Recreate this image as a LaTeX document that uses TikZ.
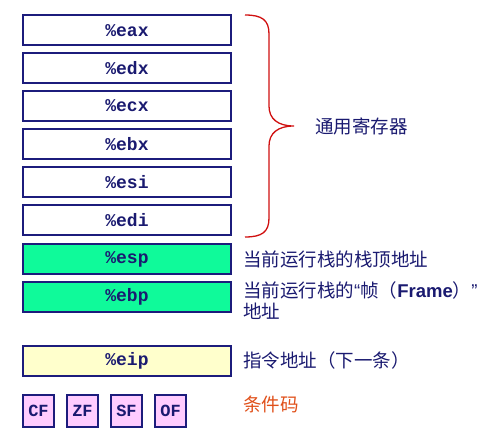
\documentclass[tikz,border=0pt]{standalone}
\usepackage{fontspec}
\setmainfont{Liberation Sans}
\setmonofont{Liberation Mono}
\newfontfamily\cjk{Noto Sans CJK SC}
\newcommand\wq[1]{{\fontspec{Liberation Sans}#1}}
\usetikzlibrary{positioning}
\definecolor{ink}{HTML}{1A1A70}
\definecolor{edge}{HTML}{1C1C7C}
\definecolor{stkbg}{HTML}{0FFA9A}
\definecolor{ipbg}{HTML}{FFFFCC}
\definecolor{flagbg}{HTML}{FFCCFF}
\definecolor{bracered}{HTML}{D01010}
\definecolor{cc}{HTML}{E0501A}

\begin{document}
\begin{tikzpicture}[x=1pt,y=-1pt,
   reg/.style={draw=edge,line width=2pt,fill=white,minimum width=208pt,minimum height=30pt,
     inner sep=0pt,text=ink,font=\fontsize{18}{18}\selectfont\ttfamily\bfseries},
   stk/.style={reg,fill=stkbg},
   ipreg/.style={reg,fill=ipbg},
   flag/.style={reg,fill=flagbg,minimum width=31pt,minimum height=32pt,
     font=\fontsize{17}{17}\selectfont\ttfamily\bfseries},
   lab/.style={anchor=west,inner sep=0pt,text=ink,font=\fontsize{18.5}{21}\selectfont\cjk}]
\useasboundingbox (0,0) rectangle (495,433);
% general purpose registers
\node[reg] (eax) at (127,30.5) {\%eax};
\node[reg] (edx) at (127,68) {\%edx};
\node[reg] (ecx) at (127,106) {\%ecx};
\node[reg] (ebx) at (127,144) {\%ebx};
\node[reg] (esi) at (127,182) {\%esi};
\node[reg] (edi) at (127,220) {\%edi};
% stack pointers
\node[stk] (esp) at (127,259) {\%esp};
\node[stk] (ebp) at (127,297) {\%ebp};
\node[ipreg] (eip) at (127,360.5) {\%eip};
% condition codes
\node[flag] (cf) at (38.5,411) {CF};
\node[flag,right=11pt of cf] (zf) {ZF};
\node[flag,right=11pt of zf] (sf) {SF};
\node[flag,right=11pt of sf] (of) {OF};
% brace
\coordinate (tip) at (294,126);
\draw[bracered,line width=1.3pt] (245,15) .. controls (262,15) and (269,20) .. (269,34)
   -- (269,106) .. controls (269,119) and (278,126) .. (tip)
   .. controls (278,126) and (269,133) .. (269,146)
   -- (269,218) .. controls (269,232) and (262,237) .. (245,237);
\node[lab,right=21pt of tip] (gpr) {通用寄存器};
\node[lab,right=11pt of esp] (esplab) {当前运行栈的栈顶地址};
\node[lab,anchor=north west,align=left] (ebplab) at (243,281)
   {当前运行栈的\wq{“}帧（\textbf{\wq{Frame}}）\wq{ ”}\\地址};
\node[lab,right=11pt of eip] (eiplab) {指令地址（下一条）};
\node[lab,text=cc] (cclab) at (243,404) {条件码};
\end{tikzpicture}
\end{document}
